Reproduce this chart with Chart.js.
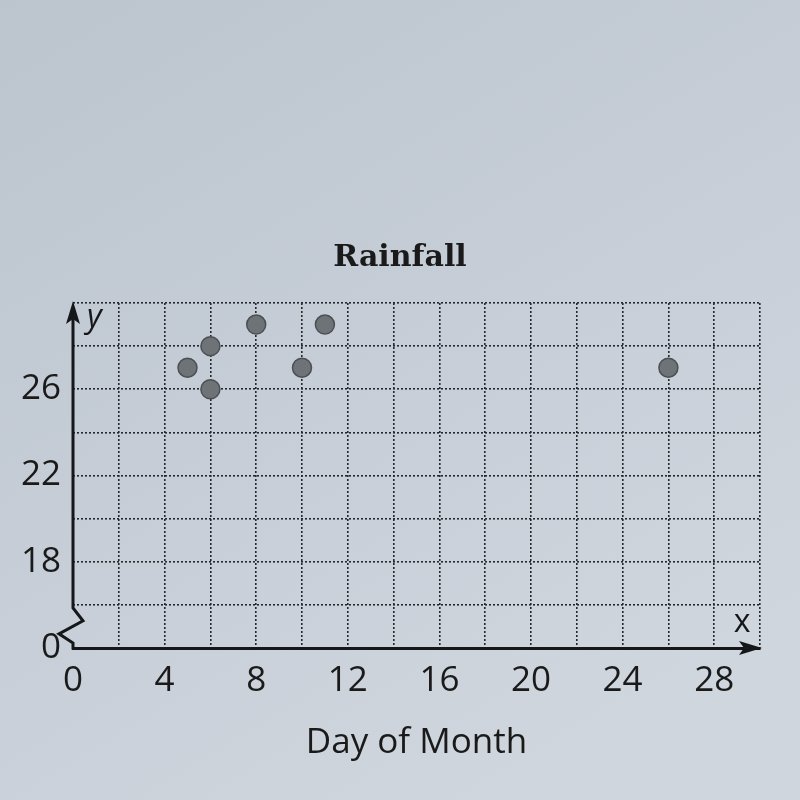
<!DOCTYPE html>
<html><head><meta charset="utf-8">
<script src="https://cdn.jsdelivr.net/npm/chart.js@4.4.1/dist/chart.umd.min.js"></script>
<style>html,body{margin:0;padding:0;background:#c9d0d9;} #wrap{width:800px;height:800px;}</style>
</head><body><div id="wrap"><canvas id="c" width="800" height="800"></canvas></div>
<script>
const days = [5, 6, 6, 8, 10, 11, 26];
const rainfall = [27, 28, 26, 29, 27, 29, 27];
const xTickLabels = [0, 4, 8, 12, 16, 20, 24, 28];
const yTickLabels = [18, 22, 26];
const yBreakLabel = '0';
const chartTitle = 'Rainfall';
const xTitle = 'Day of Month';

const decor = {
  id: 'decor',
  beforeDraw(chart) {
    const {ctx, width, height} = chart;
    const g = ctx.createLinearGradient(0, 0, width * 0.6, height);
    g.addColorStop(0, '#bcc4ce');
    g.addColorStop(1, '#cfd6de');
    ctx.save(); ctx.fillStyle = g; ctx.fillRect(0, 0, width, height); ctx.restore();
  },
  afterDraw(chart) {
    const {ctx, scales: {x, y}} = chart;
    const x0 = x.getPixelForValue(0);
    const r = x.getPixelForValue(30);
    const b = y.getPixelForValue(14);
    const t = y.getPixelForValue(30);
    const y16 = y.getPixelForValue(16);
    ctx.save();
    ctx.strokeStyle = '#15171a'; ctx.fillStyle = '#15171a'; ctx.lineWidth = 3; ctx.lineJoin = 'miter';
    ctx.beginPath();
    ctx.moveTo(x0, t + 14);
    ctx.lineTo(x0, y16 + 3);
    ctx.lineTo(x0 + 10, y16 + 16);
    ctx.lineTo(x0 - 14, y16 + 29);
    ctx.lineTo(x0, b - 5);
    ctx.lineTo(x0, b + 1.5);
    ctx.stroke();
    ctx.beginPath();
    ctx.moveTo(x0, t - 2); ctx.lineTo(x0 - 7, t + 21); ctx.lineTo(x0, t + 16); ctx.lineTo(x0 + 7, t + 21); ctx.closePath(); ctx.fill();
    ctx.beginPath();
    ctx.moveTo(r + 2, b); ctx.lineTo(r - 21, b - 7); ctx.lineTo(r - 16, b); ctx.lineTo(r - 21, b + 7); ctx.closePath(); ctx.fill();
    ctx.font = 'italic 32px "Open Sans"'; ctx.textAlign = 'left'; ctx.textBaseline = 'alphabetic';
    ctx.fillText('y', x0 + 14, t + 24);
    ctx.font = '32px "Open Sans"'; ctx.textAlign = 'center';
    ctx.fillText('x', r - 18, b - 16);
    ctx.restore();
  }
};

new Chart(document.getElementById('c'), {
  type: 'scatter',
  data: { datasets: [{
    data: days.map((d, i) => ({x: d, y: rainfall[i]})),
    pointRadius: 9.5, pointHoverRadius: 9.5,
    pointBackgroundColor: '#6e7378', pointBorderColor: '#4c5055', pointBorderWidth: 1.5
  }]},
  options: {
    responsive: false, animation: false,
    layout: {padding: 0},
    plugins: {
      legend: {display: false}, tooltip: {enabled: false},
      title: {display: true, text: chartTitle, color: '#1a1a1a',
        font: {family: '"DejaVu Serif"', weight: 'bold', size: 30}, padding: {top: 240, bottom: 27}}
    },
    scales: {
      x: {type: 'linear', min: 0, max: 30,
        afterFit: s => { s.height = 152; },
        ticks: {stepSize: 2, autoSkip: false, maxRotation: 0, padding: 12, color: '#1a1a1a',
          font: {family: '"Open Sans"', size: 35},
          callback: v => xTickLabels.includes(v) ? String(v) : ''},
        grid: {drawTicks: false, lineWidth: 1.6,
          color: c => (c.tick && c.tick.value === 0) ? 'rgba(0,0,0,0)' : '#25282c'},
        border: {display: true, color: '#15171a', width: 3, dash: [2, 2]},
        title: {display: true, text: xTitle, color: '#1a1a1a',
          font: {family: '"Open Sans"', size: 35}, padding: {top: 20, bottom: 36}}
      },
      y: {type: 'linear', min: 14, max: 30,
        afterFit: s => { s.width = 73; },
        ticks: {stepSize: 2, autoSkip: false, padding: 12, color: '#1a1a1a',
          font: {family: '"Open Sans"', size: 35},
          callback: v => v === 14 ? yBreakLabel : (yTickLabels.includes(v) ? String(v) : '')},
        grid: {drawTicks: false, lineWidth: 1.6, color: '#25282c'},
        border: {display: false, dash: [2, 2]}
      },
      yRightSpace: {type: 'linear', position: 'right', display: true,
        afterFit: s => { s.width = 40; },
        ticks: {display: false}, grid: {display: false, drawOnChartArea: false}, border: {display: false}}
    }
  },
  plugins: [decor]
});
</script>
</body></html>
